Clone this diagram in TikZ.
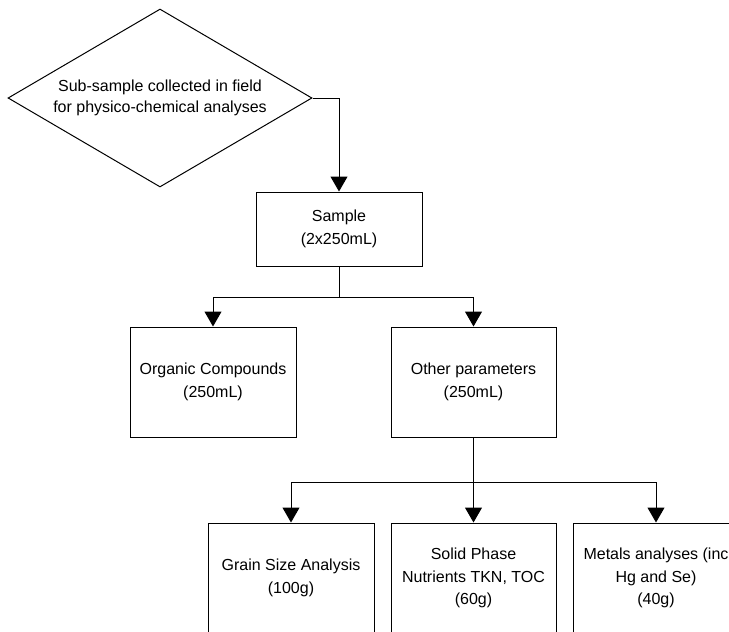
\documentclass[tikz,border=0pt]{standalone}
\usepackage{fontspec}
\setmainfont{Liberation Sans}
\usetikzlibrary{shapes.geometric,arrows.meta}
\begin{document}
\begin{tikzpicture}[x=1pt,y=-1pt,
  every node/.style={font=\fontsize{16}{22.5}\selectfont, align=center, inner sep=0pt},
  box/.style={draw, line width=1pt, minimum width=166pt, minimum height=110pt},
  decision/.style={draw, line width=1pt, diamond, aspect=1.7, minimum width=304pt, minimum height=178pt, font=\fontsize{16}{21}\selectfont},
  arr/.style={line width=1pt, -{Triangle[width=17pt,length=15pt]}},
  link/.style={line width=1pt}]
\useasboundingbox (0,0) rectangle (729,632);
\clip (0,0) rectangle (729,632);
\node[decision] (d) at (160,98) {Sub-sample collected in field\\for physico-chemical analyses};
\node[box, minimum height=74pt] (sample) at (339,229) {Sample\\(2x250mL)};
\node[box] (organic) at (213,382) {Organic Compounds\\(250mL)};
\node[box, minimum width=165pt] (other) at (473.5,382) {Other parameters\\(250mL)};
\node[box] (grain) at (291,578) {Grain Size Analysis\\(100g)};
\node[box, minimum width=165pt] (solid) at (473.5,578) {Solid Phase\\Nutrients TKN, TOC\\(60g)};
\node[box] (metals) at (656,578) {Metals analyses (inc\\Hg and Se)\\(40g)};
\draw[arr] (d.east) -| (sample.north);
\draw[link] (sample.south) -- ++(0,31) coordinate (j1);
\draw[arr] (j1) -| (organic.north);
\draw[arr] (j1) -| (other.north);
\draw[link] (other.south) -- ++(0,44.5) coordinate (j2);
\draw[arr] (j2) -| (grain.north);
\draw[arr] (j2) -- (solid.north);
\draw[arr] (j2) -| (metals.north);
\end{tikzpicture}
\end{document}
